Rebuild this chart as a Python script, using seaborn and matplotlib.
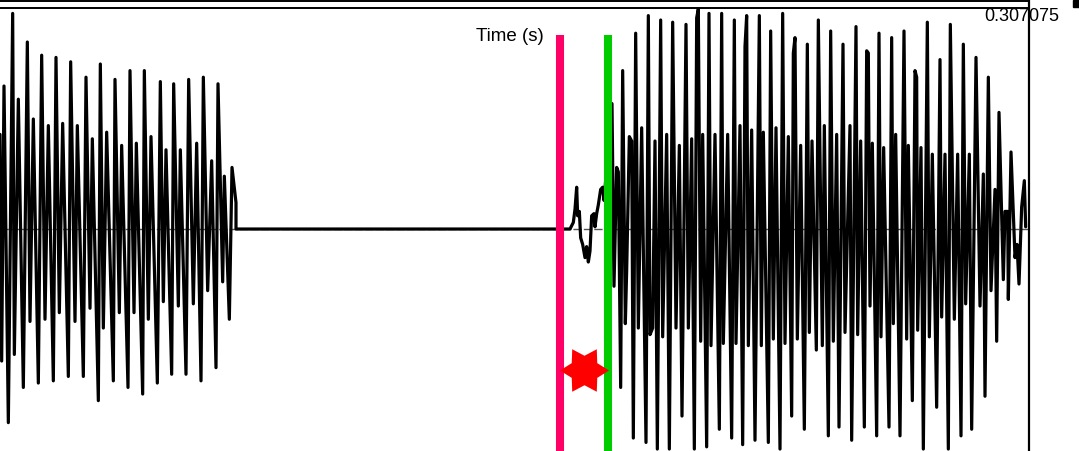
import numpy as np
import pandas as pd
import matplotlib
matplotlib.use("Agg")
import matplotlib.pyplot as plt
import seaborn as sns
from matplotlib.patches import Rectangle
from matplotlib.path import Path
from matplotlib.transforms import Affine2D

# ---- data (time in ms, amplitude normalised) ----
wave_t_ms = [
    0.0, 0.5, 1.2, 2.5, 3.8, 4.3, 5.5, 7.0, 8.2, 9.0, 10.0, 11.5, 12.5, 13.5, 14.5,
    16.0, 16.8, 17.8, 18.8, 20.5, 21.2, 22.5, 23.2, 25.0, 25.8, 27.0, 27.7, 29.5,
    30.1, 31.0, 32.0, 34.0, 34.5, 35.8, 36.5, 38.4, 39.0, 40.2, 40.9, 42.8, 43.3,
    44.5, 45.3, 47.2, 48.1, 49.0, 49.8, 51.5, 52.1, 53.5, 54.1, 55.8, 56.6, 58.0,
    59.0, 60.3, 61.0, 62.3, 63.5, 64.8, 65.4, 66.8, 67.3, 68.8, 69.6, 70.8, 70.8,
    # silence + burst
    171.0, 172.0, 172.5, 173.0, 173.3, 173.8, 174.2, 174.8, 175.5, 176.0, 176.5,
    177.0, 177.5, 178.2, 178.5, 179.0, 179.5, 180.2, 180.8, 181.2,
    # vowel
    183.6, 184.2, 185.0, 185.5, 186.2, 186.8, 187.6, 188.0, 188.8, 189.5, 190.0,
    190.7, 191.5, 192.5, 193.8, 194.5, 195.0, 195.8, 196.5, 197.2, 198.2, 198.8,
    200.0, 200.8, 201.8, 202.8, 203.8, 204.6, 205.8, 206.5, 207.5, 208.3, 209.0,
    209.5, 210.2, 210.8, 212.0, 212.7, 213.3, 214.5, 215.8, 216.5, 217.0, 218.3,
    219.5, 220.3, 220.8, 222.0, 222.8, 223.5, 224.0, 224.5, 225.5, 226.5, 227.8,
    228.4, 229.0, 230.5, 231.2, 232.0, 232.8, 234.0, 234.8, 235.5, 236.5, 237.5,
    238.0, 238.5, 239.2, 240.2, 241.3, 242.2, 242.8, 243.6, 244.9,
    245.5, 246.7, 247.3, 248.5, 249.2, 250.0, 251.0, 251.7, 252.9, 253.5, 255.0,
    255.5, 256.8, 257.3, 258.2, 259.3, 260.0, 260.5, 261.0, 261.7, 263.0, 263.7,
    264.3, 265.1, 266.7, 267.5, 268.0, 268.7, 270.0, 271.2, 272.0, 272.5, 273.7,
    274.5, 275.0, 275.3, 276.3, 277.0, 278.2, 278.8, 279.7, 281.0, 282.0, 282.5,
    283.5, 284.5, 285.1, 286.3, 287.3, 288.3, 289.0, 289.7, 290.8, 291.5, 292.8,
    294.0, 295.0, 295.5, 296.5, 297.3, 298.5, 299.0, 299.7, 301.0, 301.5, 302.3,
    302.5, 303.3, 304.5, 305.1, 305.7, 306.5, 307.3, 307.7,
]
wave_amp = [
    0.43, -0.60, 0.65, -0.88, 0.98, -0.57, 0.59, -0.72, 0.85, -0.42, 0.50, -0.70,
    0.79, -0.41, 0.47, -0.69, 0.78, -0.38, 0.48, -0.67, 0.76, -0.42, 0.47, -0.67,
    0.69, -0.36, 0.41, -0.78, 0.75, -0.45, 0.44, -0.69, 0.68, -0.38, 0.38, -0.72,
    0.72, -0.38, 0.39, -0.75, 0.72, -0.41, 0.42, -0.70, 0.67, -0.33, 0.36, -0.66,
    0.66, -0.35, 0.36, -0.66, 0.68, -0.34, 0.39, -0.69, 0.69, -0.28, 0.31, -0.63,
    0.66, -0.24, 0.24, -0.41, 0.28, 0.12, 0.00,
    0.00, 0.03, 0.09, 0.19, 0.06, 0.08, -0.04, -0.07, -0.13, -0.08, -0.15,
    -0.10, 0.06, 0.07, 0.01, 0.07, 0.11, 0.18, 0.19, 0.13,
    0.57, -0.26, 0.28, 0.26, -0.72, 0.72, -0.43, -0.19, 0.42, 0.40, -0.95,
    0.89, -0.45, 0.46, -0.97, 0.97, -0.48, -0.45, 0.40, -1.00, 0.95, -0.49,
    0.43, -1.00, 0.94, -0.45, 0.38, -0.85, 0.93, -0.45, 0.41, -1.00, 0.96,
    1.00, -0.51, 0.43, -0.99, 0.98, -0.53, 0.43, -0.91, 0.98, -0.52, 0.43,
    -0.95, 0.95, -0.52, 0.47, -0.98, 0.83, 0.97, -0.53, 0.45, -0.96, 0.97,
    -0.53, 0.44, -0.97, 0.90, -0.50, 0.46, -1.00, 0.98, -0.52, 0.42, -0.85,
    0.80, 0.87, -0.50, 0.38, -0.91, 0.84, -0.47, 0.40, -0.55,
    0.95, -0.53, 0.47, -0.94, 0.90, -0.51, 0.43, -0.90, 0.84, -0.47, 0.47,
    -0.96, 0.92, -0.48, 0.40, -0.90, 0.81, 0.80, -0.35, 0.39, -0.94, 0.89,
    -0.49, 0.37, -0.90, 0.87, -0.43, 0.43, -0.94, 0.90, -0.50, 0.38, -0.78,
    0.72, 0.69, -0.46, 0.37, -1.00, 0.94, -0.49, 0.34, -0.81, 0.77, -0.40,
    0.34, -1.00, 0.93, -0.41, 0.34, -0.94, 0.84, -0.34, 0.34, -0.91, 0.78,
    -0.35, 0.25, -0.76, 0.69, -0.28, 0.18, -0.51, 0.53, -0.23, 0.08, 0.08,
    -0.32, 0.35, -0.13, -0.07, -0.25, 0.10, 0.22, 0.01,
]
boundary_t_ms = [168.0, 182.4]
boundary_colors = ["#FF0066", "#00CC00"]
star_t_ms = [175.2]
star_amp = [-0.64]
view_end_ms = 323.7
window_end_ms = 308.7
window_end_label = "0.307075"
axis_label = "Time (s)"

sns.set_theme(style="white")
plt.rcParams['font.family'] = ['Liberation Sans', 'DejaVu Sans']

fig = plt.figure(figsize=(10.79, 4.51), dpi=100)
fig.patch.set_facecolor("white")
ax = fig.add_axes([0, 0, 1, 1])
ax.set_facecolor("white")

df = pd.DataFrame({"t": wave_t_ms, "amp": wave_amp})
sns.lineplot(data=df, x="t", y="amp", sort=False, estimator=None,
             color="black", lw=2.3, ax=ax, zorder=2)

ax.set_xlim(0, view_end_ms)
ax.set_ylim(-1.009, 1.041)

# zero line
ax.plot([0, window_end_ms], [0, 0], color="#555555", lw=1.0,
        ls=(0, (6, 1.5)), zorder=1)
# frame pieces
ax.axvline(window_end_ms, color="black", lw=1.6, zorder=3)
ax.axhline(1.036, xmin=0, xmax=window_end_ms / view_end_ms, color="black", lw=1.4)
ax.axhline(1.005, xmin=0, xmax=window_end_ms / view_end_ms, color="black", lw=1.4)
ax.add_patch(Rectangle((0.9944, 0.984), 0.0056, 0.016, transform=ax.transAxes,
                       color="black", clip_on=False))

# boundaries
for t, c in zip(boundary_t_ms, boundary_colors):
    ax.vlines(t, -1.1, 0.882, color=c, lw=5.8, zorder=4)

hexagram = Path.unit_regular_star(6, innerCircle=0.6).transformed(Affine2D().rotate_deg(30))
sns.scatterplot(x=star_t_ms, y=star_amp, marker=hexagram, s=1250,
                color="#FF0000", linewidth=0, ax=ax, zorder=5, legend=False)

ax.text(152.9, 0.877, axis_label, ha="center", va="center", fontsize=13.5, color="black")
ax.text(306.6, 0.964, window_end_label, ha="center", va="center", fontsize=13, color="black")

ax.set_xlabel("")
ax.set_ylabel("")
ax.set_xticks([])
ax.set_yticks([])
for s in ax.spines.values():
    s.set_visible(False)

fig.savefig("out.png", dpi=100, facecolor="white")
